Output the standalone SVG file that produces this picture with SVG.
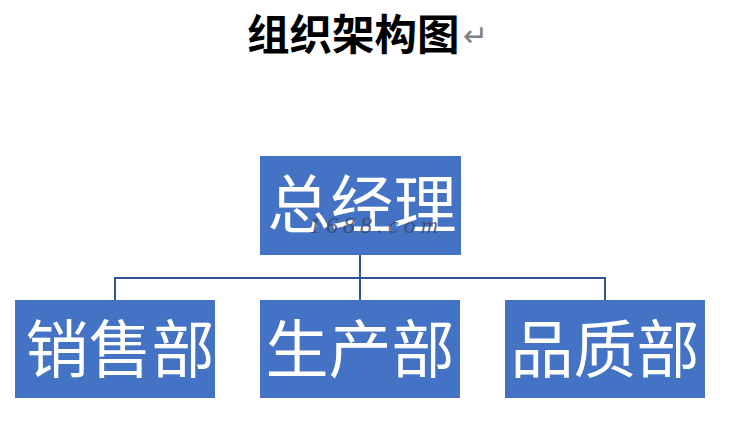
<svg xmlns="http://www.w3.org/2000/svg" width="752" height="444" viewBox="0 0 752 444">
<style>
.box{fill:#4472C4}
.lbl{font-family:"Microsoft YaHei","Noto Sans CJK SC",sans-serif;font-size:63px;fill:#ffffff;text-anchor:middle;dominant-baseline:central}
.conn{fill:none;stroke:#2F5597;stroke-width:2}
.title{font-family:"Noto Sans CJK SC",sans-serif;font-weight:bold;font-size:42.5px;fill:#000000}
.mark{font-family:"DejaVu Sans",sans-serif;font-size:30px;fill:#808080}
.wm{font-family:"Liberation Serif",serif;font-style:italic;font-size:24px;fill:#3a4560;fill-opacity:0.8;letter-spacing:5px}
</style>
<rect width="752" height="444" fill="#ffffff"/>
<text class="title" x="247" y="50">组织架构图</text>
<text class="mark" x="463" y="46">↵</text>
<g id="connectors">
<path class="conn" d="M360 255V278M115 300V278H605V300M360 278V300"/>
</g>
<g id="n0">
<rect class="box" x="260" y="156" width="201" height="99"/>
<text class="lbl" x="362" y="199">总经理</text>
<text class="wm" x="309" y="233">1688.com</text>
</g>
<g id="n1">
<rect class="box" x="15" y="300" width="200" height="98"/>
<text class="lbl" x="120" y="344">销售部</text>
</g>
<g id="n2">
<rect class="box" x="260" y="300" width="200" height="98"/>
<text class="lbl" x="360" y="344">生产部</text>
</g>
<g id="n3">
<rect class="box" x="505" y="300" width="200" height="98"/>
<text class="lbl" x="605" y="344">品质部</text>
</g>
</svg>
